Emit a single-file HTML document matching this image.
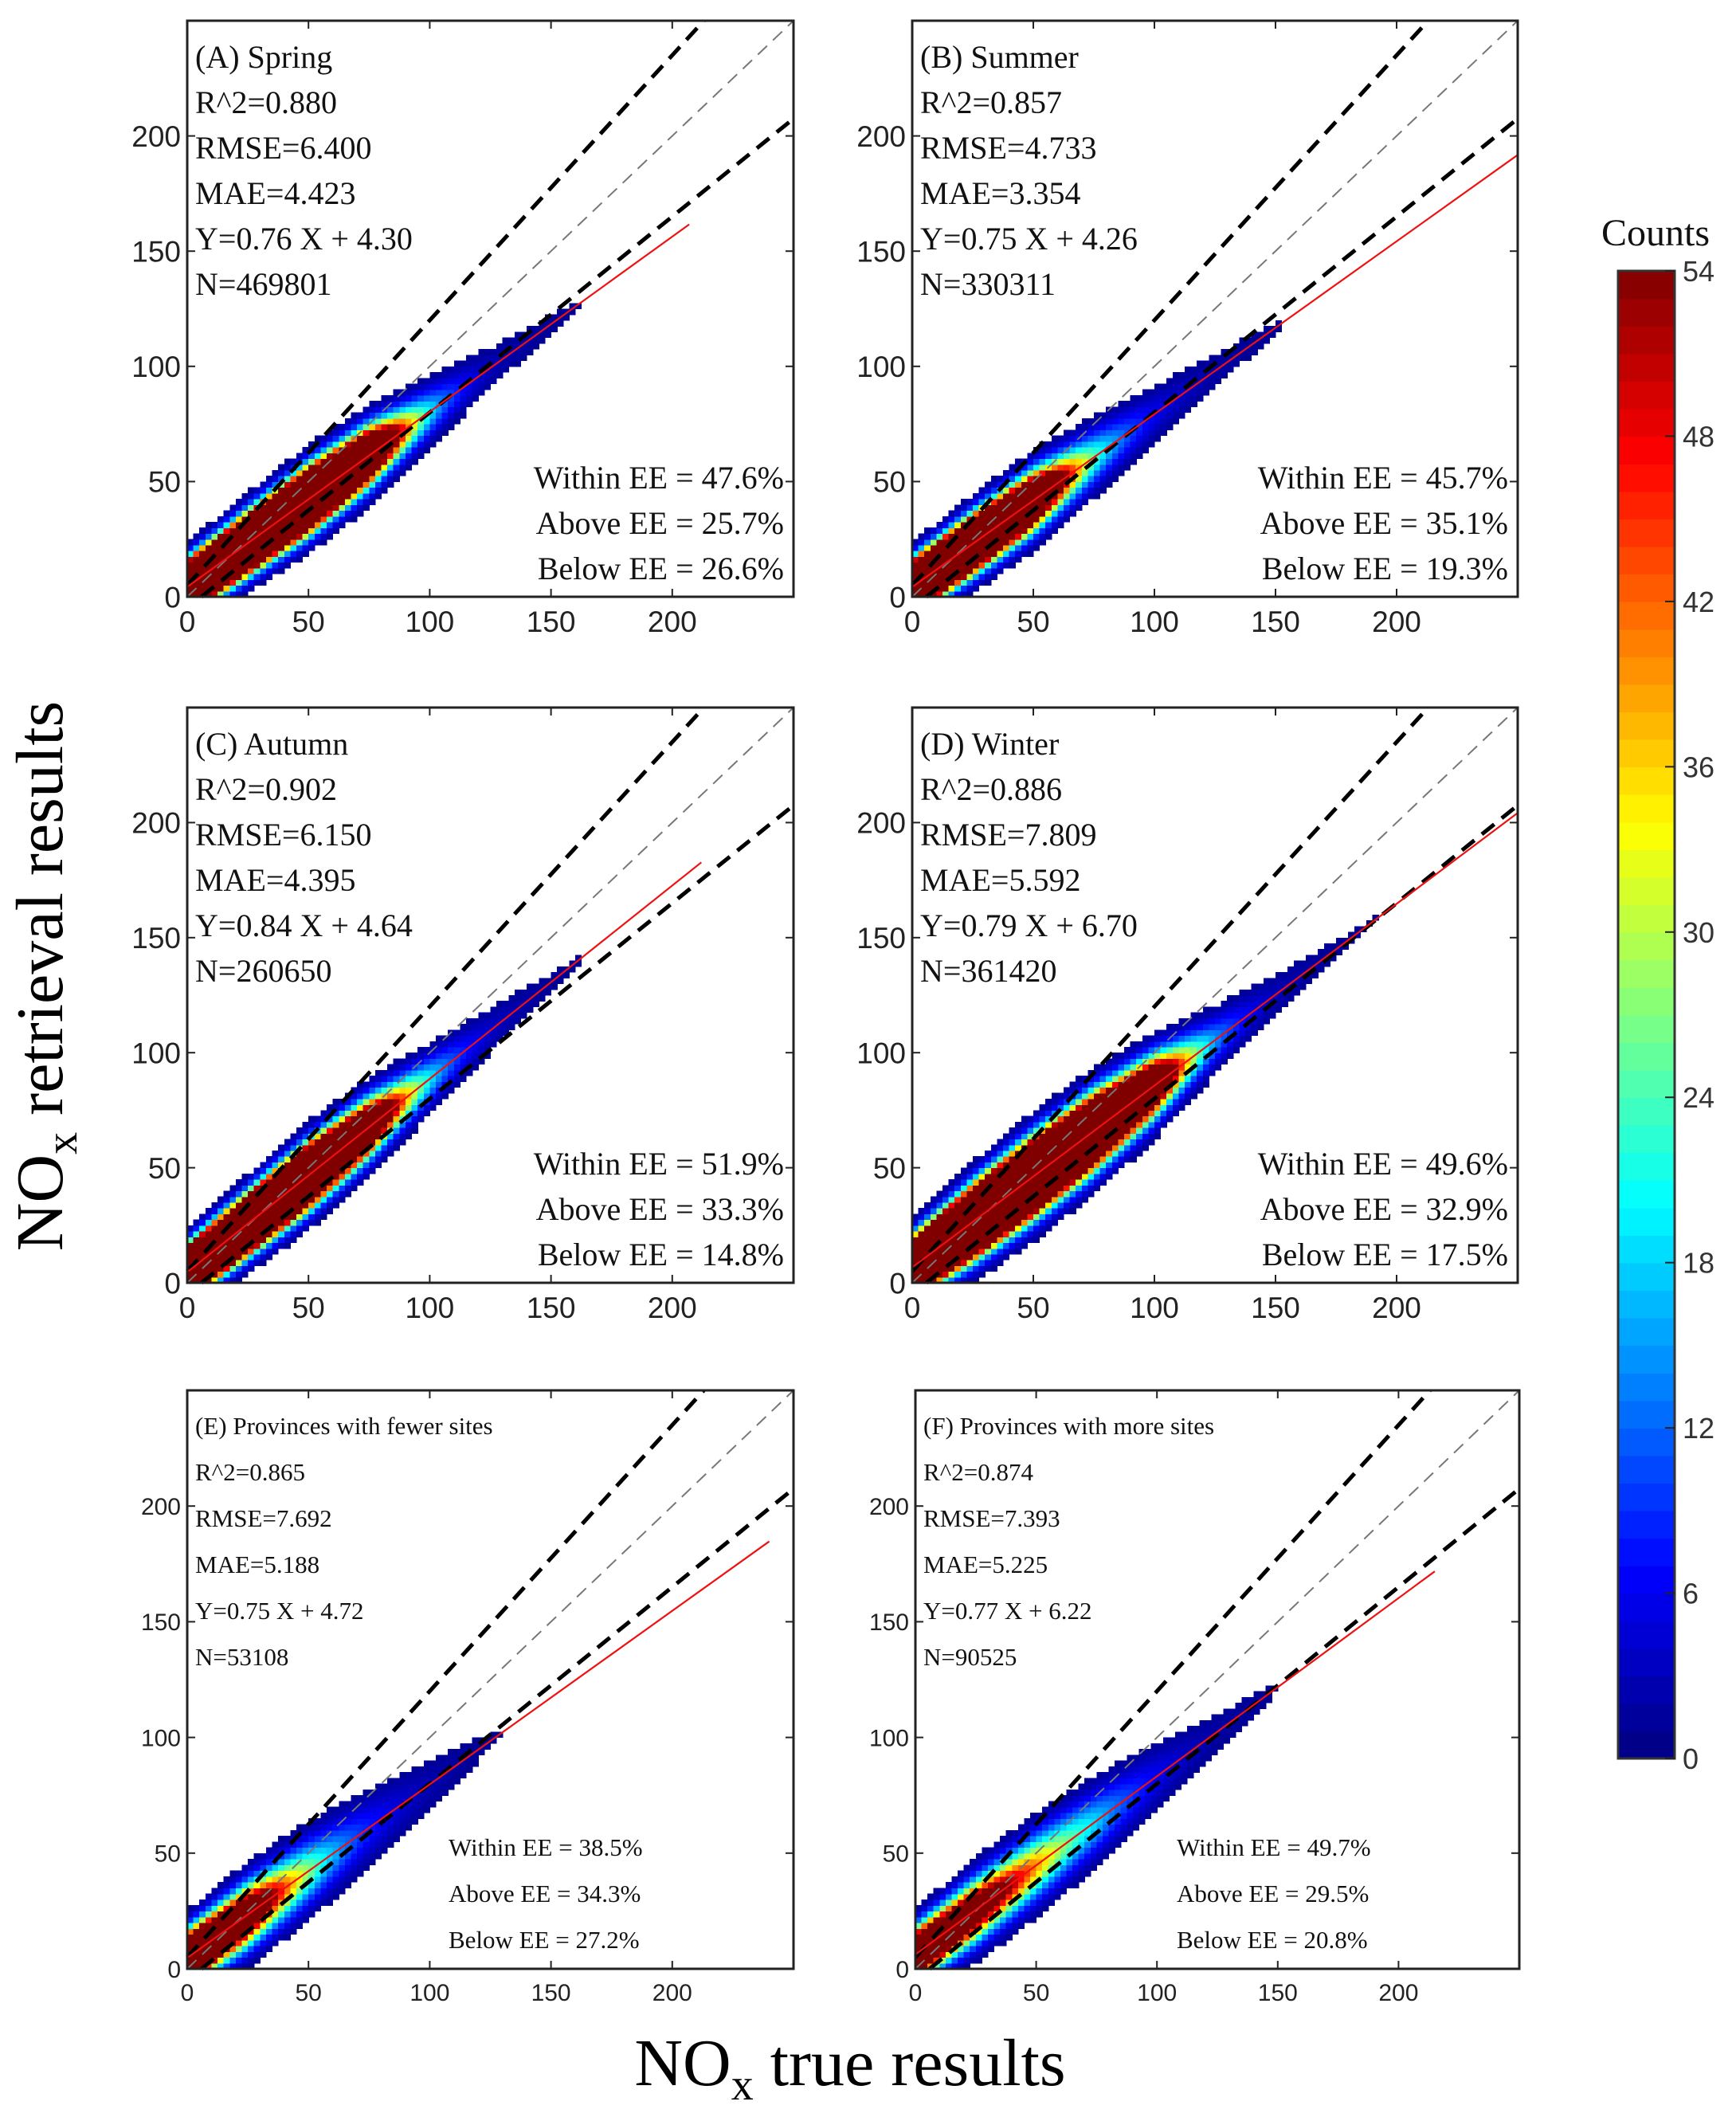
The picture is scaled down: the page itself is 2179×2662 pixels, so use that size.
<!DOCTYPE html>
<html><head><meta charset="utf-8">
<style>
html,body{margin:0;padding:0;background:#fff;}
svg{display:block;}
</style></head>
<body>
<svg id="fig" xmlns="http://www.w3.org/2000/svg" width="2179" height="2662" viewBox="0 0 2179 2662">
<rect x="0" y="0" width="2179" height="2662" fill="#fff"/>
<text transform="translate(78,1225) rotate(-90)" text-anchor="middle" font-family="'Liberation Serif', serif" font-size="84">NO<tspan font-size="56" dy="18">x</tspan><tspan dy="-18"> retrieval results</tspan></text>
<text x="1067" y="2617" text-anchor="middle" font-family="'Liberation Serif', serif" font-size="84">NO<tspan font-size="56" dy="18">x</tspan><tspan dy="-18"> true results</tspan></text>
<g id="panels"></g>
<g id="cbar"></g>
</svg>
<script>
// ---- data ----
const axisTicks = [0, 50, 100, 150, 200];
const panelIds = ["A", "B", "C", "D", "E", "F"];
const panelTitles = ["(A) Spring", "(B) Summer", "(C) Autumn", "(D) Winter", "(E) Provinces with fewer sites", "(F) Provinces with more sites"];
const r2Vals = ["0.880", "0.857", "0.902", "0.886", "0.865", "0.874"];
const rmseVals = ["6.400", "4.733", "6.150", "7.809", "7.692", "7.393"];
const maeVals = ["4.423", "3.354", "4.395", "5.592", "5.188", "5.225"];
const slopes = [0.76, 0.75, 0.84, 0.79, 0.75, 0.77];
const intercepts = [4.30, 4.26, 4.64, 6.70, 4.72, 6.22];
const nVals = ["469801", "330311", "260650", "361420", "53108", "90525"];
const withinEE = ["47.6", "45.7", "51.9", "49.6", "38.5", "49.7"];
const aboveEE = ["25.7", "35.1", "33.3", "32.9", "34.3", "29.5"];
const belowEE = ["26.6", "19.3", "14.8", "17.5", "27.2", "20.8"];
const fitEnd = [207, 250, 212, 250, 240, 215];
// density profile knots (x in NOx units), peak counts and half widths
const knotX = [0, 25, 50, 75, 100, 125, 150, 175, 200, 225, 250];
const peakA = [300, 320, 300, 150, 20, 3, 1.3, 0.8, 0.5, 0.3, 0.2];
const peakB = [300, 260, 140, 25, 6, 2, 1.1, 0.6, 0.4, 0.2, 0.1];
const peakC = [300, 320, 280, 120, 20, 4, 1.3, 0.8, 0.5, 0.3, 0.1];
const peakD = [300, 340, 320, 240, 110, 15, 3, 1.3, 0.9, 0.6, 0.4];
const peakE = [160, 90, 28, 8, 2.5, 1.1, 0.7, 0.5, 0.3, 0.2, 0.1];
const peakF = [130, 80, 40, 18, 6, 2, 1.0, 0.7, 0.5, 0.2, 0.1];
const widthA = [9, 10, 11, 11, 10, 9, 8, 8, 7, 7, 7];
const widthB = [9, 10, 11, 11, 10, 9, 8, 8, 7, 7, 7];
const widthC = [9, 10, 11, 11, 10, 9, 8, 8, 7, 7, 7];
const widthD = [10, 12, 13, 13, 12, 10, 9, 8, 8, 7, 7];
const widthE = [10, 12, 13, 13, 12, 10, 9, 8, 8, 7, 7];
const widthF = [10, 12, 13, 13, 12, 10, 9, 8, 8, 7, 7];
const cbarTicks = [0, 6, 12, 18, 24, 30, 36, 42, 48, 54];

const peaks = [peakA, peakB, peakC, peakD, peakE, peakF];
const widths = [widthA, widthB, widthC, widthD, widthE, widthF];
const boxes = [
  {L:235, R:996, T:26, B:749},
  {L:1145, R:1905, T:26, B:749},
  {L:235, R:996, T:888, B:1610},
  {L:1145, R:1905, T:888, B:1610},
  {L:235, R:996, T:1745, B:2471},
  {L:1149, R:1907, T:1745, B:2471}
];
const NS = "http://www.w3.org/2000/svg";
function mk(tag, attrs, parent){ const e=document.createElementNS(NS,tag); for(const k in attrs) e.setAttribute(k,attrs[k]); parent.appendChild(e); return e; }
function jet(t){
  t=Math.max(0,Math.min(1,t));
  const f=(x)=>Math.max(0,Math.min(1,x));
  const r=f(1.5-Math.abs(4*t-3)), g=f(1.5-Math.abs(4*t-2)), b=f(1.5-Math.abs(4*t-1));
  return "rgb("+Math.round(r*255)+","+Math.round(g*255)+","+Math.round(b*255)+")";
}
function interp(xs, ys, x){
  if(x<=xs[0]) return ys[0];
  for(let i=1;i<xs.length;i++){ if(x<=xs[i]){ const t=(x-xs[i-1])/(xs[i]-xs[i-1]); return ys[i-1]*Math.pow(ys[i]/ys[i-1],t);} }
  return ys[ys.length-1];
}
const SERIF = "'Liberation Serif', serif";
const SANS = "'Liberation Sans', sans-serif";
const panelsG = document.getElementById("panels");
panelIds.forEach((id, p) => {
  const bx = boxes[p];
  const sx = v => bx.L + v/250*(bx.R-bx.L);
  const sy = v => bx.B - v/250*(bx.B-bx.T);
  const small = p >= 4;
  const g = mk("g", {}, panelsG);
  
  
  // heatmap
  const hm = mk("g", {"shape-rendering":"crispEdges"}, g);
  
  
  const bin = 2.5;
  for(let xi=0; xi<100; xi++){
    const xc = (xi+0.5)*bin;
    const pk = interp(knotX, peaks[p], xc);
    const w = interp(knotX, widths[p], xc);
    const yc = slopes[p]*xc + intercepts[p];
    for(let yi=0; yi<100; yi++){
      const y0 = (yi+0.5)*bin;
      const d = (y0-yc)/w;
      const c = pk*Math.exp(-d*d*1.2);
      if(c < 1) continue;
      mk("rect", {x:sx(xi*bin).toFixed(1), y:sy((yi+1)*bin).toFixed(1), width:(sx(bin)-sx(0)+0.6).toFixed(1), height:(sy(0)-sy(bin)+0.6).toFixed(1), fill: c>=54 ? "#800000" : jet(c/54)}, hm);
    }
  }
  // reference lines
  const clipEnd = (m,b)=>{ let x2=250, y2=m*250+b; if(y2>250){ y2=250; x2=(250-b)/m; } return [x2,y2]; };
  let e = clipEnd(1.15,5);
  let l = mk("line",{x1:sx(0),y1:sy(5),x2:sx(e[0]),y2:sy(e[1]),stroke:"#000","stroke-width":5,"stroke-dasharray":"20 12"},g);
   
  e = clipEnd(0.85,-5);
  l = mk("line",{x1:sx(5/0.85),y1:sy(0),x2:sx(e[0]),y2:sy(e[1]),stroke:"#000","stroke-width":5,"stroke-dasharray":"20 12"},g);
   
  l = mk("line",{x1:sx(0),y1:sy(0),x2:sx(250),y2:sy(250),stroke:"#777","stroke-width":2,"stroke-dasharray":"16 10"},g);
   
  l = mk("line",{x1:sx(0),y1:sy(intercepts[p]),x2:sx(fitEnd[p]),y2:sy(slopes[p]*fitEnd[p]+intercepts[p]),stroke:"#ee1111","stroke-width":2.2},g);
   
  // frame
  const fr = mk("rect",{x:bx.L,y:bx.T,width:bx.R-bx.L,height:bx.B-bx.T,fill:"none",stroke:"#222","stroke-width":3},g);
   
  const tfs = small ? 30 : 37;
  axisTicks.concat([250]).forEach(v=>{
    mk("line",{x1:sx(v),y1:bx.B,x2:sx(v),y2:bx.B-10,stroke:"#222","stroke-width":2},g);
    mk("line",{x1:sx(v),y1:bx.T,x2:sx(v),y2:bx.T+10,stroke:"#222","stroke-width":2},g);
    mk("line",{x1:bx.L,y1:sy(v),x2:bx.L+10,y2:sy(v),stroke:"#222","stroke-width":2},g);
    mk("line",{x1:bx.R,y1:sy(v),x2:bx.R-10,y2:sy(v),stroke:"#222","stroke-width":2},g);
  });
  axisTicks.forEach(v=>{
    const t1 = mk("text",{x:sx(v),y:bx.B+(small?40:44),"text-anchor":"middle","font-family":SANS,"font-size":tfs,fill:"#222"},g);
    t1.textContent = v;
     
    const t2 = mk("text",{x:bx.L-8,y:sy(v)+tfs*0.36,"text-anchor":"end","font-family":SANS,"font-size":tfs,fill:"#222"},g);
    t2.textContent = v;
     
  });
  // stats text
  const fs = small ? 31 : 40;
  const step = small ? 58 : 57;
  const y0 = small ? bx.T+55 : bx.T+59;
  const lines = [panelTitles[p], "R^2="+r2Vals[p], "RMSE="+rmseVals[p], "MAE="+maeVals[p], "Y="+slopes[p].toFixed(2)+" X + "+intercepts[p].toFixed(2), "N="+nVals[p]];
  const names = ["panel-title","r2-label","rmse-label","mae-label","fit-equation","n-label"];
  lines.forEach((s,i)=>{
    const t = mk("text",{x:bx.L+10,y:y0+i*step,"font-family":SERIF,"font-size":fs,fill:"#111"},g);
    t.textContent = s;
     
  });
  const ee = ["Within EE = "+withinEE[p]+"%", "Above EE = "+aboveEE[p]+"%", "Below EE = "+belowEE[p]+"%"];
  const eeNames = ["within-ee-label","above-ee-label","below-ee-label"];
  ee.forEach((s,i)=>{
    let t;
    if(small){
      t = mk("text",{x:bx.L+328,y:bx.B-142+i*58,"font-family":SERIF,"font-size":fs,fill:"#111"},g);
    } else {
      t = mk("text",{x:bx.R-12,y:bx.B-136+i*57,"text-anchor":"end","font-family":SERIF,"font-size":fs,fill:"#111"},g);
    }
    t.textContent = s;
     
  });
});
// colorbar
const cb = document.getElementById("cbar");


const cbT=340, cbB=2207, cbL=2031, cbR=2102;
const cy = v => cbB - v/54*(cbB-cbT);
for(let i=0;i<54;i++){
  mk("rect",{x:cbL,y:cy(i+1).toFixed(2),width:cbR-cbL,height:(cy(i)-cy(i+1)+0.8).toFixed(2),fill:jet((i+0.5)/54),"shape-rendering":"crispEdges"},cb);
}
mk("rect",{x:cbL,y:cbT,width:cbR-cbL,height:cbB-cbT,fill:"none",stroke:"#333","stroke-width":3},cb);
cbarTicks.forEach(v=>{
  mk("line",{x1:cbR-12,y1:cy(v),x2:cbR,y2:cy(v),stroke:"#222","stroke-width":2},cb);
  const t = mk("text",{x:cbR+10,y:cy(v)+13,"font-family":SANS,"font-size":36,fill:"#333"},cb);
  t.textContent = v;
   
});
const ct = mk("text",{x:2078,y:308,"text-anchor":"middle","font-family":SERIF,"font-size":48,fill:"#111"},cb);
ct.textContent = "Counts";
 
</script>
</body></html>
